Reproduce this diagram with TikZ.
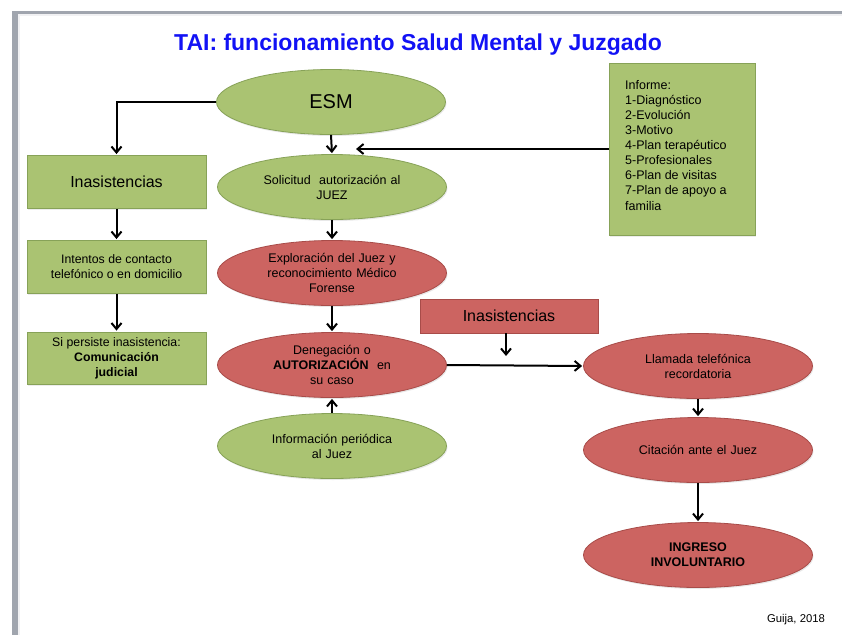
\documentclass[tikz,border=0pt]{standalone}
\usepackage{fontspec}
\setmainfont{Liberation Sans}
\usetikzlibrary{shapes.geometric,arrows.meta,shadows}
\definecolor{gfill}{RGB}{170,195,114}
\definecolor{gdraw}{RGB}{135,162,88}
\definecolor{rfill}{RGB}{204,100,97}
\definecolor{rdraw}{RGB}{168,76,73}
\definecolor{framegray}{RGB}{160,165,174}
\definecolor{titleblue}{RGB}{18,18,245}
\tikzset{
  ell/.style={ellipse, inner sep=0pt, text width=150pt, align=center,
    minimum width=229pt, minimum height=65pt, line width=0.8pt,
    font=\fontsize{12.5}{15}\selectfont,
    drop shadow={opacity=0.18, shadow xshift=1pt, shadow yshift=-1.5pt}},
  gell/.style={ell, fill=gfill, draw=gdraw},
  rell/.style={ell, fill=rfill, draw=rdraw},
  gbox/.style={rectangle, inner sep=0pt, align=center, fill=gfill, draw=gdraw,
    line width=0.9pt, font=\fontsize{12.3}{15}\selectfont,
    drop shadow={opacity=0.15, shadow xshift=1pt, shadow yshift=-1.5pt}},
  rbox/.style={rectangle, inner sep=0pt, align=center, fill=rfill, draw=rdraw,
    line width=0.9pt, font=\fontsize{16}{19}\selectfont},
  arr/.style={line width=2pt, shorten >=1pt, -{Straight Barb[length=6pt,width=10pt,line width=2pt]}}
}
\begin{document}
\begin{tikzpicture}[x=1pt,y=-1pt]
\useasboundingbox (0,0) rectangle (842,635);
\fill[white] (0,0) rectangle (842,635);
% slide frame
\fill[framegray] (12,11) rectangle (842,14);
\fill[framegray] (12,11) rectangle (18,635);
\fill[white!85!framegray] (18,14) rectangle (19.5,635);
\fill[white!85!framegray] (18,14) rectangle (842,15.5);
% title
\node (title) at (418,45) {\fontsize{23}{27}\selectfont\bfseries\color{titleblue}TAI: funcionamiento Salud Mental y Juzgado};
% central column
\node[gell] (esm) at (331,102) {\fontsize{20}{24}\selectfont ESM};
\node[gell] (sol) at (332,187) {Solicitud\ \ autorización al\\JUEZ};
\node[rell] (exp) at (332,273) {Exploración del Juez y\\reconocimiento Médico\\Forense};
\node[rell] (den) at (332,365) {Denegación o\\\textbf{AUTORIZACIÓN}\ \ en\\su caso};
\node[gell] (inf) at (332,446) {Información periódica\\al Juez};
% right column
\node[rell] (lla) at (698,366) {Llamada telefónica\\recordatoria};
\node[rell] (cit) at (698,450) {Citación ante el Juez};
\node[rell] (ing) at (698,555) {\textbf{INGRESO}\\\textbf{INVOLUNTARIO}};
% left column
\node[gbox, minimum width=179pt, minimum height=53pt, font=\fontsize{16}{19}\selectfont] (ina1) at (116.5,182) {Inasistencias};
\node[gbox, minimum width=179pt, minimum height=53pt] (int) at (116.5,267) {Intentos de contacto\\telefónico o en domicilio};
\node[gbox, minimum width=179pt, minimum height=52pt] (sip) at (116.5,358) {Si persiste inasistencia:\\\textbf{Comunicación}\\\textbf{judicial}};
% informe box
\node[gbox, minimum width=146pt, minimum height=172pt] (infbox) at (682,149) {};
\node[anchor=north west, inner sep=0pt, align=left, font=\fontsize{12.5}{15.1}\selectfont] (inftext) at (625,80)
 {Informe:\\1-Diagnóstico\\2-Evolución\\3-Motivo\\4-Plan terapéutico\\5-Profesionales\\6-Plan de visitas\\7-Plan de apoyo a\\familia};
% red inasistencias
\node[rbox, minimum width=178pt, minimum height=34pt] (ina2) at (509,316) {Inasistencias};
% credit
\node (credit) at (796,620) {\fontsize{11.3}{13}\selectfont Guija, 2018};
% coordinates
\coordinate (c1) at (355,149);
\coordinate (c2) at (506,357);
\coordinate (c3) at (506,333);
% connectors
\draw[arr] (esm.west) -| (ina1.north);
\draw[arr] (esm.south) -- (sol.north);
\draw[arr] (infbox.west) -- (c1);
\draw[arr] (sol.south) -- (exp.north);
\draw[arr] (exp.south) -- (den.north);
\draw[arr] (inf.north) -- (den.south);
\draw[arr] (c3) -- (c2);
\draw[arr] (den.east) -- (lla.west);
\draw[arr] (lla.south) -- (cit.north);
\draw[arr] (cit.south) -- (ing.north);
\draw[arr] (ina1.south) -- (int.north);
\draw[arr] (int.south) -- (sip.north);
\end{tikzpicture}
\end{document}
